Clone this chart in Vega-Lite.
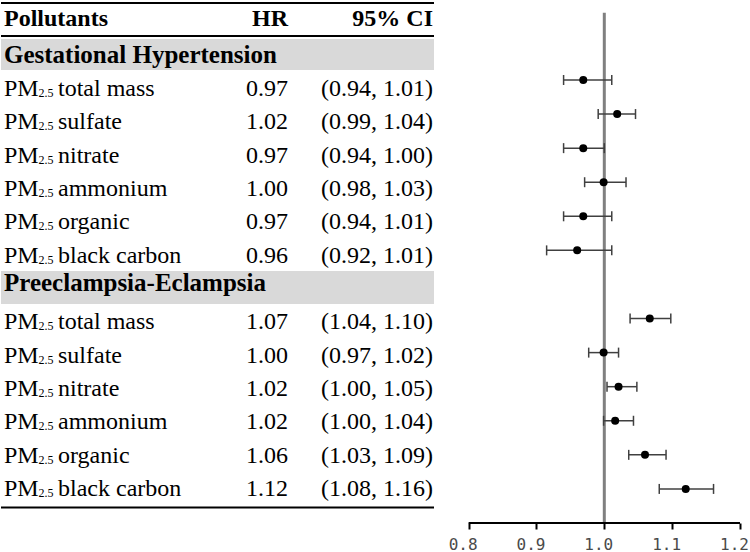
{
  "$schema": "https://vega.github.io/schema/vega-lite/v6.json",
  "padding": 0,
  "background": "white",
  "config": {"view": {"stroke": null}, "text": {"font": "Liberation Serif", "color": "black"}},
  "datasets": {
    "rows": [
      {"r": 2, "name": "total mass", "hr": "0.97", "ci": "(0.94, 1.01)", "est": 0.969, "lo": 0.940, "hi": 1.011},
      {"r": 3, "name": "sulfate", "hr": "1.02", "ci": "(0.99, 1.04)", "est": 1.019, "lo": 0.991, "hi": 1.046},
      {"r": 4, "name": "nitrate", "hr": "0.97", "ci": "(0.94, 1.00)", "est": 0.969, "lo": 0.940, "hi": 1.000},
      {"r": 5, "name": "ammonium", "hr": "1.00", "ci": "(0.98, 1.03)", "est": 0.999, "lo": 0.971, "hi": 1.032},
      {"r": 6, "name": "organic", "hr": "0.97", "ci": "(0.94, 1.01)", "est": 0.969, "lo": 0.940, "hi": 1.011},
      {"r": 7, "name": "black carbon", "hr": "0.96", "ci": "(0.92, 1.01)", "est": 0.960, "lo": 0.915, "hi": 1.011},
      {"r": 9, "name": "total mass", "hr": "1.07", "ci": "(1.04, 1.10)", "est": 1.067, "lo": 1.038, "hi": 1.098},
      {"r": 10, "name": "sulfate", "hr": "1.00", "ci": "(0.97, 1.02)", "est": 0.999, "lo": 0.977, "hi": 1.021},
      {"r": 11, "name": "nitrate", "hr": "1.02", "ci": "(1.00, 1.05)", "est": 1.021, "lo": 1.004, "hi": 1.048},
      {"r": 12, "name": "ammonium", "hr": "1.02", "ci": "(1.00, 1.04)", "est": 1.016, "lo": 0.999, "hi": 1.043},
      {"r": 13, "name": "organic", "hr": "1.06", "ci": "(1.03, 1.09)", "est": 1.060, "lo": 1.036, "hi": 1.091},
      {"r": 14, "name": "black carbon", "hr": "1.12", "ci": "(1.08, 1.16)", "est": 1.120, "lo": 1.081, "hi": 1.161}
    ],
    "bands": [
      {"y0": 0.53, "y1": 1.46, "label": "Gestational Hypertension", "ty": 1.0},
      {"y0": 7.49, "y1": 8.48, "label": "Preeclampsia-Eclampsia", "ty": 7.85}
    ],
    "lines": [{"y": -0.55}, {"y": 0.44}, {"y": 14.585}],
    "header": [{"r": -0.1, "name": "Pollutants", "hr": "HR", "ci": "95% CI"}],
    "refline": [{"x": 1.0, "y0": 0.03, "y1": 15.0}],
    "axisline": [{"a": 0.8, "b": 1.2, "y": 15.0}]
  },
  "spacing": 0,
  "bounds": "flush",
  "hconcat": [
    {
      "width": 287,
      "height": 552,
      "layer": [
        {
          "data": {"name": "bands"},
          "mark": {"type": "rect", "color": "#d9d9d9"},
          "encoding": {
            "y": {"field": "y0", "type": "quantitative", "scale": {"domain": [-0.64, 15.92], "reverse": true, "nice": false, "zero": false}, "axis": null},
            "y2": {"field": "y1"}
          }
        },
        {
          "data": {"name": "lines"},
          "mark": {"type": "rule", "color": "black", "strokeWidth": 2},
          "encoding": {"y": {"field": "y", "type": "quantitative", "axis": null}}
        },
        {
          "data": {"name": "header"},
          "mark": {"type": "text", "fontWeight": "bold", "fontSize": 24, "baseline": "alphabetic", "dy": 7.9, "align": "left", "dx": 3},
          "encoding": {
            "x": {"datum": "name", "type": "nominal", "scale": {"type": "point", "domain": ["name", "hr"], "padding": 0}, "axis": null},
            "y": {"field": "r", "type": "quantitative"},
            "text": {"field": "name"}
          }
        },
        {
          "data": {"name": "header"},
          "mark": {"type": "text", "fontWeight": "bold", "fontSize": 24, "baseline": "alphabetic", "dy": 7.9, "align": "right"},
          "encoding": {
            "x": {"datum": "hr", "type": "nominal"},
            "y": {"field": "r", "type": "quantitative"},
            "text": {"field": "hr"}
          }
        },
        {
          "data": {"name": "bands"},
          "mark": {"type": "text", "fontWeight": "bold", "fontSize": 25, "baseline": "alphabetic", "dy": 8.3, "align": "left", "dx": 3},
          "encoding": {
            "x": {"datum": "name", "type": "nominal"},
            "y": {"field": "ty", "type": "quantitative"},
            "text": {"field": "label"}
          }
        },
        {
          "data": {"name": "rows"},
          "mark": {"type": "text", "fontSize": 24, "baseline": "alphabetic", "dy": 7.9, "align": "left", "dx": 3},
          "encoding": {
            "x": {"datum": "name", "type": "nominal"},
            "y": {"field": "r", "type": "quantitative"},
            "text": {"value": "PM"}
          }
        },
        {
          "data": {"name": "rows"},
          "mark": {"type": "text", "fontSize": 12, "baseline": "alphabetic", "dy": 9, "align": "left", "dx": 37.5},
          "encoding": {
            "x": {"datum": "name", "type": "nominal"},
            "y": {"field": "r", "type": "quantitative"},
            "text": {"value": "2.5"}
          }
        },
        {
          "data": {"name": "rows"},
          "mark": {"type": "text", "fontSize": 24, "baseline": "alphabetic", "dy": 7.9, "align": "left", "dx": 57},
          "encoding": {
            "x": {"datum": "name", "type": "nominal"},
            "y": {"field": "r", "type": "quantitative"},
            "text": {"field": "name"}
          }
        },
        {
          "data": {"name": "rows"},
          "mark": {"type": "text", "fontSize": 24, "baseline": "alphabetic", "dy": 7.9, "align": "right"},
          "encoding": {
            "x": {"datum": "hr", "type": "nominal"},
            "y": {"field": "r", "type": "quantitative"},
            "text": {"field": "hr"}
          }
        }
      ]
    },
    {
      "width": 146,
      "height": 552,
      "layer": [
        {
          "data": {"name": "bands"},
          "mark": {"type": "rect", "color": "#d9d9d9"},
          "encoding": {
            "y": {"field": "y0", "type": "quantitative", "scale": {"domain": [-0.64, 15.92], "reverse": true, "nice": false, "zero": false}, "axis": null},
            "y2": {"field": "y1"}
          }
        },
        {
          "data": {"name": "lines"},
          "mark": {"type": "rule", "color": "black", "strokeWidth": 2},
          "encoding": {"y": {"field": "y", "type": "quantitative", "axis": null}}
        },
        {
          "data": {"name": "header"},
          "mark": {"type": "text", "fontWeight": "bold", "fontSize": 24, "baseline": "alphabetic", "dy": 7.9, "align": "right", "dx": -1},
          "encoding": {
            "x": {"datum": "ci", "type": "nominal", "scale": {"type": "point", "domain": ["start", "ci"], "padding": 0}, "axis": null},
            "y": {"field": "r", "type": "quantitative"},
            "text": {"field": "ci"}
          }
        },
        {
          "data": {"name": "rows"},
          "mark": {"type": "text", "fontSize": 24, "baseline": "alphabetic", "dy": 7.9, "align": "right", "dx": -1},
          "encoding": {
            "x": {"datum": "ci", "type": "nominal"},
            "y": {"field": "r", "type": "quantitative"},
            "text": {"field": "ci"}
          }
        }
      ]
    },
    {
      "width": 306,
      "height": 523,
      "encoding": {
        "y": {"type": "quantitative", "scale": {"domain": [-0.347, 15.0], "reverse": true, "nice": false, "zero": false}, "axis": null}
      },
      "layer": [
        {
          "data": {"name": "refline"},
          "mark": {"type": "rule", "color": "#808080", "strokeWidth": 3},
          "encoding": {
            "x": {
              "field": "x", "type": "quantitative",
              "scale": {"domain": [0.749, 1.2], "nice": false, "zero": false},
              "axis": {
                "values": [0.8, 0.9, 1.0, 1.1, 1.2], "format": ".1f", "title": null, "grid": false,
                "domain": false, "tickColor": "black", "tickWidth": 2, "tickSize": 6,
                "labelFont": "DejaVu Sans Mono", "labelFontSize": 16, "labelColor": "#4a4a4a", "labelPadding": 7,
                "labelOffset": -6, "labelFlush": false, "labelOverlap": false
              }
            },
            "y": {"field": "y0", "type": "quantitative"},
            "y2": {"field": "y1"}
          }
        },
        {
          "data": {"name": "axisline"},
          "mark": {"type": "rule", "color": "black", "strokeWidth": 2},
          "encoding": {
            "x": {"field": "a", "type": "quantitative"},
            "x2": {"field": "b"},
            "y": {"field": "y", "type": "quantitative"}
          }
        },
        {
          "data": {"name": "rows"},
          "mark": {"type": "rule", "color": "#404040", "strokeWidth": 1.5},
          "encoding": {
            "x": {"field": "lo", "type": "quantitative"},
            "x2": {"field": "hi"},
            "y": {"field": "r", "type": "quantitative"}
          }
        },
        {
          "data": {"name": "rows"},
          "mark": {"type": "tick", "orient": "vertical", "color": "#404040", "size": 10, "thickness": 1.5, "opacity": 1},
          "encoding": {
            "x": {"field": "lo", "type": "quantitative"},
            "y": {"field": "r", "type": "quantitative"}
          }
        },
        {
          "data": {"name": "rows"},
          "mark": {"type": "tick", "orient": "vertical", "color": "#404040", "size": 10, "thickness": 1.5, "opacity": 1},
          "encoding": {
            "x": {"field": "hi", "type": "quantitative"},
            "y": {"field": "r", "type": "quantitative"}
          }
        },
        {
          "data": {"name": "rows"},
          "mark": {"type": "circle", "color": "black", "size": 64, "opacity": 1},
          "encoding": {
            "x": {"field": "est", "type": "quantitative"},
            "y": {"field": "r", "type": "quantitative"}
          }
        }
      ]
    }
  ]
}
